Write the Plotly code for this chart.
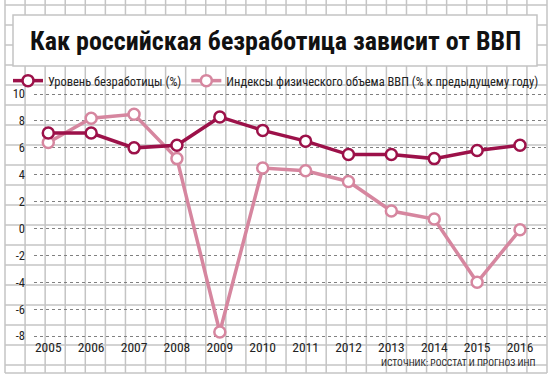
import plotly.graph_objects as go

# ---- data ----
years = [2005, 2006, 2007, 2008, 2009, 2010, 2011, 2012, 2013, 2014, 2015, 2016]
year_labels = [str(y) for y in years]
unemployment = [7.1, 7.1, 6.0, 6.2, 8.3, 7.3, 6.5, 5.5, 5.5, 5.2, 5.8, 6.2]
gdp_index = [6.4, 8.2, 8.5, 5.2, -7.7, 4.5, 4.3, 3.5, 1.3, 0.7, -4.0, -0.1]
y_ticks = [10, 8, 6, 4, 2, 0, -2, -4, -6, -8]
y_tick_labels = ["10", "8", "6", "4", "2", "0", "-2", "-4", "-6", "-8"]

name_unemp = "Уровень безработицы (%)"
name_gdp = "Индексы физического объема ВВП (% к предыдущему году)"
title_text = "Как российская безработица зависит от ВВП"
source_text = "ИСТОЧНИК: РОССТАТ И ПРОГНОЗ ИНП"

W, H = 554, 380


def px(x):
    return x / W


def py(y):
    return 1 - y / H


dark = "#9c1149"
pink = "#d6869f"
grid = "#c4c4c4"
narrow = "Liberation Sans Narrow, Roboto Condensed, Roboto, sans-serif"

shapes = []
# graph-paper background
for k in range(28):
    x = 5 + k * 542 / 27
    shapes.append(dict(type="line", xref="paper", yref="paper",
                       x0=px(x), x1=px(x), y0=py(0), y1=py(373),
                       line=dict(color=grid, width=1.5), layer="below"))
for k in range(19):
    y = 5 + 20 * k
    shapes.append(dict(type="line", xref="paper", yref="paper",
                       x0=px(5), x1=px(547), y0=py(y), y1=py(y),
                       line=dict(color=grid, width=1.5), layer="below"))
shapes.append(dict(type="line", xref="paper", yref="paper",
                   x0=px(5), x1=px(547), y0=py(373), y1=py(373),
                   line=dict(color=grid, width=1.5), layer="below"))
# title box
shapes.append(dict(type="rect", xref="paper", yref="paper",
                   x0=px(13), x1=px(537), y0=py(66), y1=py(15),
                   fillcolor="white", line=dict(color=grid, width=1.5),
                   layer="below"))
# zero line (dark red dotted)
shapes.append(dict(type="line", xref="paper", yref="y",
                   x0=px(34), x1=px(546), y0=0, y1=0,
                   line=dict(color=dark, width=1.2, dash="dot"),
                   layer="between"))

fig = go.Figure()
fig.add_trace(go.Scatter(
    x=years, y=gdp_index, name=name_gdp, mode="lines+markers",
    line=dict(color=pink, width=3.5),
    marker=dict(symbol="circle", size=11, color="white",
                line=dict(color=pink, width=2.5)),
))
fig.add_trace(go.Scatter(
    x=years, y=unemployment, name=name_unemp, mode="lines+markers",
    line=dict(color=dark, width=3.5),
    marker=dict(symbol="circle", size=11, color="white",
                line=dict(color=dark, width=2.5)),
))

fig.update_layout(
    width=W, height=H,
    margin=dict(l=0, r=0, t=0, b=0, pad=0, autoexpand=False),
    paper_bgcolor="white",
    plot_bgcolor="rgba(0,0,0,0)",
    shapes=shapes,
    showlegend=True,
    legend=dict(orientation="h", x=px(8), y=py(66), xanchor="left",
                yanchor="top", bgcolor="rgba(0,0,0,0)",
                traceorder="reversed",
                font=dict(family=narrow, size=12.5, color="#222")),
    xaxis=dict(domain=[px(34), px(546)], range=[2004.667, 2016.606],
               tickvals=years, ticktext=year_labels, showgrid=False,
               zeroline=False, showline=False, ticks="",
               automargin=False, ticklabelstandoff=-3,
               tickfont=dict(family=narrow, size=13.5, color="#222")),
    yaxis=dict(domain=[py(340), py(90)], range=[-8.296, 10.305],
               tickvals=y_ticks, ticktext=y_tick_labels,
               showgrid=True, gridcolor="#808080", griddash="dot",
               gridwidth=1, zeroline=False, showline=False, ticks="",
               ticklabelstandoff=8, automargin=False,
               tickfont=dict(family=narrow, size=12.5, color="#222")),
    annotations=[
        dict(text="<b>" + title_text + "</b>", xref="paper", yref="paper",
             x=px(275), y=py(41), xanchor="center", yanchor="middle",
             showarrow=False,
             font=dict(family=narrow, size=26, color="#111")),
        dict(text=source_text, xref="paper", yref="paper",
             x=px(537), y=py(362), xanchor="right", yanchor="middle",
             showarrow=False,
             font=dict(family=narrow, size=9.6, color="#222")),
    ],
)

fig.write_html(
    "out.html",
    config={"displayModeBar": False},
    post_script="document.body.style.margin='0';document.body.style.overflow='hidden';",
)
